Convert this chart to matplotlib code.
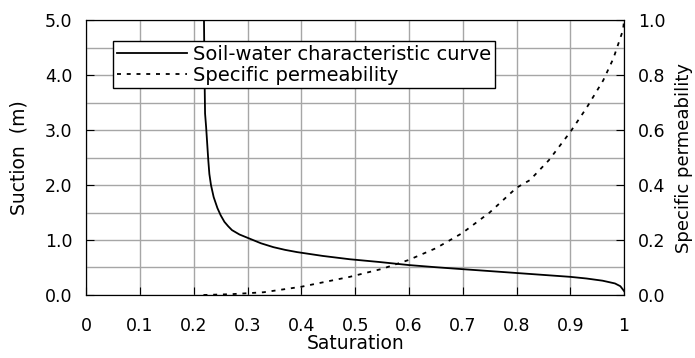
import matplotlib
matplotlib.use("Agg")
import matplotlib.pyplot as plt

plt.rcParams['font.family'] = ['DejaVu Sans']

# courbe caracteristique sol-eau (saturation, succion en m)
swcc_sat = [0.219, 0.220, 0.221, 0.223, 0.225, 0.227, 0.229, 0.232, 0.237, 0.244, 0.250,
            0.257, 0.264, 0.271, 0.285, 0.305, 0.325, 0.348, 0.37, 0.392, 0.44, 0.49,
            0.545, 0.599, 0.65, 0.699, 0.75, 0.80, 0.85, 0.90, 0.93, 0.96, 0.983, 0.993, 1.0]
swcc_suction = [5.0, 4.0, 3.3, 3.05, 2.75, 2.45, 2.2, 2.0, 1.78, 1.58, 1.45,
                1.33, 1.25, 1.18, 1.1, 1.02, 0.94, 0.87, 0.82, 0.78, 0.71, 0.65,
                0.6, 0.545, 0.505, 0.47, 0.435, 0.40, 0.365, 0.33, 0.30, 0.26, 0.21, 0.16, 0.07]

# permeabilite specifique
perm_sat = [0.218, 0.27, 0.33, 0.40, 0.49, 0.55, 0.599, 0.65, 0.699, 0.75, 0.80,
            0.825, 0.86, 0.9, 0.93, 0.961, 0.98, 0.998, 1.0]
perm_val = [0.0, 0.003, 0.01, 0.03, 0.066, 0.095, 0.127, 0.17, 0.225, 0.30, 0.39,
            0.418, 0.49, 0.593, 0.68, 0.78, 0.86, 0.964, 1.0]

fig = plt.figure(figsize=(6.95, 3.58), dpi=100)
ax = fig.add_axes([0.124, 0.176, 0.774, 0.768])
ax2 = ax.twinx()

l1, = ax.plot(swcc_sat, swcc_suction, color='black', lw=1.3,
              label='Soil-water characteristic curve')
l2, = ax2.plot(perm_sat, perm_val, color='black', lw=1.3, linestyle=(0, (2.2, 3.2)),
               label='Specific permeability')

ax.set_xlim(0, 1)
ax.set_ylim(0, 5)
ax2.set_ylim(0, 1)
ax.set_xticks([i / 10 for i in range(11)])
ax.set_xticklabels(['0', '0.1', '0.2', '0.3', '0.4', '0.5', '0.6', '0.7', '0.8', '0.9', '1'])
ax.set_yticks([0, 1, 2, 3, 4, 5])
ax.set_yticklabels(['0.0', '1.0', '2.0', '3.0', '4.0', '5.0'])
ax.set_yticks([0.5, 1.5, 2.5, 3.5, 4.5], minor=True)
ax2.set_yticks([0, 0.2, 0.4, 0.6, 0.8, 1.0])
ax2.set_yticklabels(['0.0', '0.2', '0.4', '0.6', '0.8', '1.0'])

ax.grid(True, which='both', color='#a6a6a6', lw=1)
ax.set_axisbelow(True)
ax.tick_params(axis='both', which='major', direction='in', length=6, labelsize=12.5, pad=10)
ax.tick_params(axis='x', pad=16)
ax.tick_params(axis='y', which='minor', length=0)
ax2.tick_params(axis='y', direction='in', length=6, labelsize=12.5, pad=10)

ax.set_xlabel('Saturation', fontsize=13.5, labelpad=-1)
ax.set_ylabel('Suction  (m)', fontsize=13.5, labelpad=12)
ax2.set_ylabel('Specific permeability', fontsize=13, labelpad=7)

leg = ax.legend(handles=[l1, l2], loc='upper left', bbox_to_anchor=(0.05, 0.925),
                fontsize=14, frameon=True, fancybox=False, edgecolor='black',
                framealpha=1, borderpad=0.2, labelspacing=0.1, handlelength=3.6,
                handletextpad=0.3, borderaxespad=0)
leg.get_frame().set_linewidth(1)

fig.savefig('out.png', dpi=100)
